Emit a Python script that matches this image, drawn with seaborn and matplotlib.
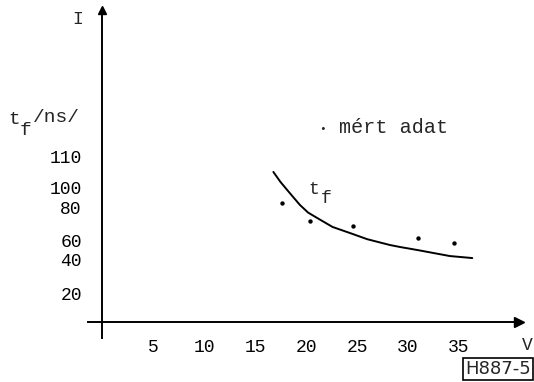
import matplotlib
matplotlib.use("Agg")
import matplotlib.pyplot as plt
import seaborn as sns
import pandas as pd

# ---- data ----
curve_v = [16.8, 17.5, 18.4, 19.4, 20.2, 21.1, 22.6, 24.3, 26.0, 28.2, 29.2, 30.9, 32.5, 34.1, 36.3]
curve_tf = [104.2, 97.2, 89.6, 81.3, 76.0, 72.2, 66.0, 61.8, 57.5, 53.5, 52.1, 50.0, 47.9, 45.8, 44.4]
meas_v = [17.6, 20.4, 24.6, 31.0, 34.5]
meas_tf = [82.6, 70.1, 66.7, 58.3, 54.9]
x_ticks = [5, 10, 15, 20, 25, 30, 35]
# the hand-typed scale in the original is uneven: labels sit at these heights
y_labels = ["20", "40", "60", "80", "100", "110"]
y_label_heights = [20.1, 43.1, 56.9, 79.2, 93.1, 114.6]

sns.set_style("white")
FONT = ["Liberation Mono", "DejaVu Sans Mono"]
plt.rcParams["font.family"] = FONT

W, H = 534, 382
fig = plt.figure(figsize=(W / 100, H / 100), dpi=100)
ax = fig.add_axes([0, 0, 1, 1])
ax.set_xlim(-10, 42.35)
ax.set_ylim(-41.67, 223.6)

curve = pd.DataFrame({"V": curve_v, "tf": curve_tf})
meas = pd.DataFrame({"V": meas_v, "tf": meas_tf})
sns.lineplot(data=curve, x="V", y="tf", ax=ax, color="black", lw=1.4, sort=False)
sns.scatterplot(data=meas, x="V", y="tf", ax=ax, color="black", s=10, linewidth=0)

# axes crossing at origin
for side in ("top", "right"):
    ax.spines[side].set_visible(False)
ax.spines["left"].set_position(("data", 0))
ax.spines["bottom"].set_position(("data", 0))
ax.spines["left"].set_bounds(-11, 216)
ax.spines["bottom"].set_bounds(-1.4, 40.6)
for side in ("left", "bottom"):
    ax.spines[side].set_linewidth(1.4)
    ax.spines[side].set_color("black")
# arrow heads
ax.plot([0], [217], marker="^", color="black", ms=6, clip_on=False)
ax.plot([40.9], [0], marker=">", color="black", ms=7, clip_on=False)

ax.set_xticks(x_ticks)
ax.set_xticklabels([str(t) for t in x_ticks])
ax.set_yticks(y_label_heights)
ax.set_yticklabels(y_labels)
ax.tick_params(axis="x", direction="inout", length=5, width=1, pad=10, labelsize=13, colors="black")
ax.tick_params(axis="y", direction="inout", length=5, width=1, pad=12, labelsize=13, colors="black")
ax.set_xlabel("")
ax.set_ylabel("")

# axis titles
fig.text(78 / W, 1 - 20 / H, "I", fontsize=13, ha="center", va="center")
fig.text(527 / W, 1 - 345 / H, "V", fontsize=13, ha="center", va="center")
fig.text(8 / W, 1 - 119 / H, "t", fontsize=14, ha="left", va="center")
fig.text(20 / W, 1 - 130 / H, "f", fontsize=14, ha="left", va="center")
fig.text(33 / W, 1 - 117 / H, "/ns/", fontsize=14, ha="left", va="center")

# curve label
ax.text(20.2, 92, "t", fontsize=13, ha="left", va="center")
ax.text(21.4, 86, "f", fontsize=13, ha="left", va="center")

# legend-like note
fig.text(322 / W, 1 - 129 / H, "\u2022", fontsize=8, ha="center", va="center")
fig.text(339 / W, 1 - 127 / H, "mért adat", fontsize=14.5, ha="left", va="center")

# figure code box
fig.text(531 / W, 1 - 369 / H, "H887-5", fontsize=13, ha="right", va="center",
         family="DejaVu Sans",
         bbox=dict(boxstyle="square,pad=0.12", fc="white", ec="black", lw=1.2))

fig.savefig("out.png", dpi=100)
